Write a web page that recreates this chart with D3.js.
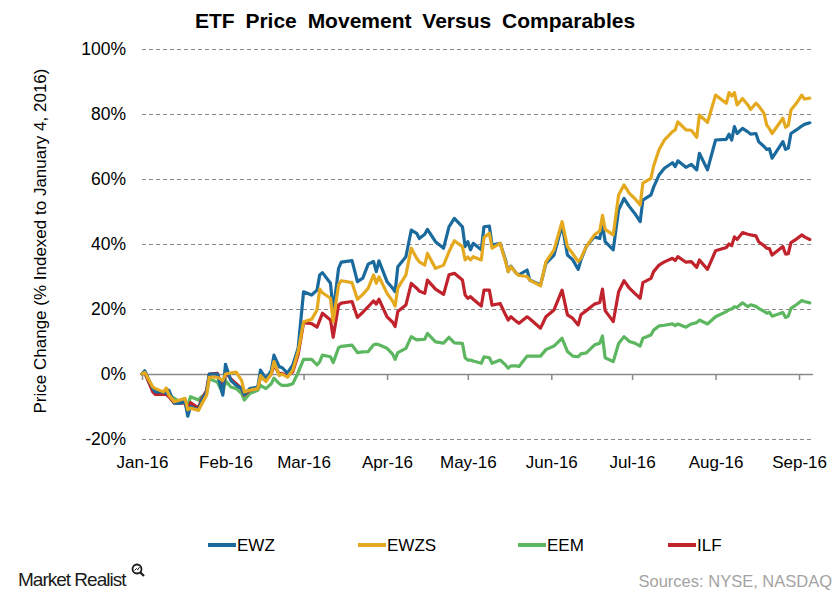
<!DOCTYPE html>
<html>
<head>
<meta charset="utf-8">
<script src="https://cdn.jsdelivr.net/npm/d3@7"></script>
<style>
  html, body { margin: 0; padding: 0; background: #fff; }
  svg { display: block; font-family: "Liberation Sans", Arial, sans-serif; }
</style>
</head>
<body>
<svg id="chart" width="840" height="600"></svg>
<script>
// ---------------- DATA ----------------
const dates = [
  "2016-01-04","2016-01-05","2016-01-08","2016-01-09","2016-01-12","2016-01-13","2016-01-14","2016-01-16",
  "2016-01-18","2016-01-20","2016-01-21","2016-01-22","2016-01-25","2016-01-26","2016-01-28","2016-01-29",
  "2016-02-01","2016-02-03","2016-02-04","2016-02-06","2016-02-08","2016-02-10","2016-02-11","2016-02-13",
  "2016-02-16","2016-02-17","2016-02-19","2016-02-21","2016-02-22","2016-02-24","2016-02-25","2016-02-27",
  "2016-02-29","2016-03-02","2016-03-04","2016-03-07","2016-03-09","2016-03-10","2016-03-11","2016-03-14",
  "2016-03-15","2016-03-17","2016-03-18","2016-03-22","2016-03-24","2016-03-26","2016-03-28","2016-03-30",
  "2016-03-31","2016-04-01","2016-04-04","2016-04-06","2016-04-07","2016-04-08","2016-04-11","2016-04-13",
  "2016-04-15","2016-04-16","2016-04-18","2016-04-19","2016-04-22","2016-04-25","2016-04-27","2016-04-29",
  "2016-05-02","2016-05-03","2016-05-04","2016-05-05","2016-05-06","2016-05-09","2016-05-10","2016-05-12",
  "2016-05-13","2016-05-16","2016-05-18","2016-05-19","2016-05-20","2016-05-22","2016-05-23","2016-05-26",
  "2016-05-27","2016-05-31","2016-06-02","2016-06-05","2016-06-08","2016-06-10","2016-06-12","2016-06-14",
  "2016-06-15","2016-06-17","2016-06-20","2016-06-22","2016-06-23","2016-06-24","2016-06-27","2016-06-29",
  "2016-07-01","2016-07-03","2016-07-05","2016-07-07","2016-07-08","2016-07-11","2016-07-12","2016-07-14",
  "2016-07-16","2016-07-19","2016-07-20","2016-07-21","2016-07-24","2016-07-26","2016-07-28","2016-07-29",
  "2016-08-01","2016-08-04","2016-08-08","2016-08-09","2016-08-10","2016-08-11","2016-08-12","2016-08-14",
  "2016-08-16","2016-08-17","2016-08-19","2016-08-20","2016-08-22","2016-08-23","2016-08-24","2016-08-25",
  "2016-08-29","2016-08-30","2016-08-31","2016-09-01","2016-09-03","2016-09-05","2016-09-06","2016-09-08"
];

const ewz = [
  0, 1, -4.5, -5.5, -5.5, -6, -5, -9, -9, -8.5, -13, -10, -11, -8.5, -5.5, 0,
  0, -6.5, 3, -2, -3.5, -4.5, -6.3, -4.5, -4, 1.2, -1.5, 1, 5.8, 2.2, 2, 0.3,
  2.8, 8, 25.3, 24.3, 25.8, 30.5, 31.2, 27.9, 19.2, 32.5, 34.4, 34.9, 28.4, 29.5, 33.8, 34.6,
  31.5, 34.8, 28.4, 26.5, 25.3, 33, 36.1, 44.3, 43.3, 41.7, 43, 44.5, 40.7, 38.7, 45.3, 47.9,
  45.3, 39.2, 40.7, 38.2, 40.2, 38.2, 45.3, 45.5, 39.7, 40.2, 35.1, 31.5, 33.2, 31, 30.5, 32,
  28.9, 27.4, 34, 36.6, 45.8, 36.6, 35.1, 32.2, 35.1, 39.2, 42.2, 41.7, 46, 40.7, 38.2, 50.5,
  54, 51.5, 49.4, 46.9, 53.5, 55.1, 57.5, 61.2, 63.3, 65, 63.8, 65.6, 63.6, 64.5, 62.8, 67.9,
  62.8, 72, 72.2, 73.8, 72, 76.1, 74, 75.6, 74.5, 73.8, 74, 71.5, 70, 69.1, 69.3, 66.4,
  71.5, 69.1, 69.5, 74, 75.1, 76.3, 76.8, 77.3
];

const ewzs = [
  0, 0.5, -4, -4.5, -5.5, -4.3, -6.5, -8.5, -8, -7.5, -11, -10.5, -11.2, -9.5, -6.5, -1,
  -1, -2, 0, 0.3, 0.6, -2, -5.5, -5, -4.5, -0.5, -2.3, 0, 3.8, -0.5, 0, -1,
  1.2, 7, 16.1, 16.8, 19.7, 26.1, 25, 23.3, 16.1, 27.4, 28.7, 28.1, 23, 24.5, 26.4, 30.5,
  27.9, 29.9, 24.8, 22.5, 20.9, 26.4, 30.5, 38.7, 35.6, 34.5, 33.5, 37.1, 32.5, 33.5, 37.6, 41,
  39.2, 35.1, 36, 35.1, 36.1, 35.1, 42, 43.3, 38.7, 40.2, 34.6, 31.5, 33, 31, 30.3, 30,
  28.9, 27.1, 34.5, 38.2, 46.9, 39.2, 37, 34.6, 35.6, 39.2, 42.8, 44, 48.8, 44.5, 42.8, 55.1,
  58.2, 55.6, 54, 52, 58.7, 60.2, 64, 69, 72, 74.6, 75.1, 77.6, 75.1, 75, 72.8, 79.7,
  77.4, 85.8, 83.3, 86.6, 85.5, 86.6, 82.8, 84.8, 82.8, 81.4, 83.3, 82.5, 80.2, 76.6, 75.5, 74,
  78.7, 75.9, 76.5, 81.2, 83.3, 85.8, 84.6, 84.9
];

const eem = [
  0, 0.2, -5, -5.5, -6, -6, -6.5, -7.5, -8.5, -8, -10, -7, -8, -7, -6, -1.5,
  -2.5, -6, -2, -4, -4.5, -6, -8, -6, -5, -3.5, -4.5, -3, -1.3, -3, -3.5, -3.5,
  -3, 0.5, 4.5, 4.5, 2.8, 3.8, 5.8, 5.3, 3.5, 8.1, 8.5, 8.9, 6.6, 6.8, 6.9, 9,
  9.2, 9, 7.9, 6.2, 4.5, 6.6, 7.9, 11.5, 10.5, 10.6, 10.7, 12.5, 9.9, 9.5, 11.3, 9.6,
  9.4, 5, 4.3, 4.3, 4, 3.3, 5.3, 5, 3.3, 4.3, 2.8, 1.8, 2.5, 2.5, 2.3, 5.5,
  5.5, 5.5, 7.5, 8.6, 11, 6.9, 5.5, 5.3, 6.2, 6.5, 8.9, 9.5, 11.7, 5, 3.8, 9.4,
  11.5, 10, 9.5, 8.6, 11, 12, 13.5, 14.8, 15, 15.4, 14.9, 15.4, 14.4, 15.4, 15.8, 16.6,
  15.4, 17.6, 19.2, 19.8, 20, 20.7, 20.5, 21.9, 20.7, 21.3, 20.8, 20.2, 19.3, 18.7, 19, 17.8,
  18.9, 17.4, 17.8, 20.2, 21.3, 22.6, 22.3, 21.9
];

const ilf = [
  0, 0.5, -5.5, -6.3, -6.3, -6.3, -7, -9, -9, -9, -11.6, -8.8, -10.5, -8, -5, 0,
  0.2, -5, 0.7, -1.5, -3, -4.5, -6.5, -5, -4.3, -1, -2, 0, 2.8, 0, 0.2, -0.5,
  0.7, 6, 15.8, 15.5, 14.4, 16.5, 18.7, 16.6, 11.3, 21.2, 21.8, 22.3, 17.4, 19, 20.7, 22.5,
  21.5, 23, 17.6, 16, 14.6, 19.2, 21.2, 27.9, 26.4, 25.5, 24.8, 28.9, 26.1, 24.5, 30.5, 31,
  28.9, 24.3, 23.3, 23.8, 23, 20.9, 25.8, 25.8, 21.2, 21.7, 18.2, 16.6, 17.6, 16.2, 15.6, 17.6,
  17, 14.1, 17.6, 19.7, 25.8, 18.2, 17.1, 15.1, 18.2, 19.5, 21.5, 22, 26.1, 19.5, 16.1, 25.3,
  28.7, 26.4, 24.8, 23.3, 28.1, 29.4, 31.5, 33.5, 34.5, 35.6, 34.9, 36.1, 34.4, 34.6, 32.8, 35.1,
  32.2, 37.9, 38.9, 40, 39.5, 42.2, 41.4, 43.5, 43, 42.8, 42.5, 40.7, 39.5, 38.7, 38.6, 36.6,
  39.2, 36.9, 37, 40.4, 41.5, 42.8, 42.2, 41.4
];

const seriesNames = ["EWZ", "EWZS", "EEM", "ILF"];
const seriesColors = ["#1a6a9e", "#e5a91f", "#5db660", "#c0232b"];
const yTicks = [-20, 0, 20, 40, 60, 80, 100];
const xTickDates = ["2016-01-04","2016-02-04","2016-03-04","2016-04-04","2016-05-04",
                    "2016-06-04","2016-07-04","2016-08-04","2016-09-04"];
const xDomain = ["2016-01-04", "2016-09-09"];

// ---------------- CHART ----------------
(function () {
  const parse = d3.timeParse("%Y-%m-%d");
  const fmt = d3.timeFormat("%b-%y");
  const svg = d3.select("#chart");
  const font = '"Liberation Sans", Arial, sans-serif';

  const pLeft = 142, pRight = 812.5, pTop = 49, pBottom = 439;
  const x = d3.scaleTime().domain(xDomain.map(parse)).range([pLeft, pRight]);
  const y = d3.scaleLinear().domain([-20, 100]).range([pBottom, pTop]);

  // title
  svg.append("text")
    .attr("x", 415).attr("y", 28)
    .attr("text-anchor", "middle")
    .attr("font-size", 21).attr("font-weight", "bold")
    .attr("word-spacing", 5)
    .attr("fill", "#000")
    .text("ETF Price Movement Versus Comparables");

  // y axis with gridlines
  const yAxis = d3.axisLeft(y).tickValues(yTicks).tickFormat(d => d + "%")
    .tickSize(-(pRight - pLeft)).tickPadding(16);
  const gy = svg.append("g").attr("transform", `translate(${pLeft},0)`).call(yAxis);
  gy.select(".domain").remove();
  gy.selectAll(".tick line")
    .attr("stroke", d => d === 0 ? "none" : "#8a8a8a")
    .attr("stroke-width", 1.2)
    .attr("stroke-dasharray", "4,3");
  gy.selectAll(".tick text").attr("font-size", 17.5).attr("font-family", font).attr("fill", "#000");

  // x axis line at 0 with tick marks
  const xAxisLine = d3.axisBottom(x).tickValues(xTickDates.map(parse)).tickSize(6)
    .tickSizeOuter(0).tickFormat("");
  const gx = svg.append("g").attr("transform", `translate(0,${y(0)})`).call(xAxisLine);
  gx.select(".domain").attr("stroke", "#8a8a8a").attr("stroke-width", 1.5);
  gx.selectAll(".tick line").attr("stroke", "#8a8a8a").attr("stroke-width", 1.5);

  // x labels below plot
  const xAxisLabels = d3.axisBottom(x).tickValues(xTickDates.map(parse)).tickSize(0)
    .tickPadding(17).tickFormat(fmt);
  const gxl = svg.append("g").attr("transform", `translate(0,${pBottom})`).call(xAxisLabels);
  gxl.select(".domain").remove();
  gxl.selectAll(".tick text").attr("font-size", 17).attr("font-family", font).attr("fill", "#000");

  // y axis title
  svg.append("text")
    .attr("transform", "translate(46,241) rotate(-90)")
    .attr("text-anchor", "middle")
    .attr("font-size", 17).attr("fill", "#000")
    .text("Price Change (% Indexed to January 4, 2016)");

  // lines
  const allSeries = [ewz, ewzs, eem, ilf];
  const line = d3.line()
    .x((d, i) => x(parse(dates[i])))
    .y(d => y(d));
  const drawOrder = [2, 3, 0, 1];
  drawOrder.forEach(k => {
    svg.append("path")
      .datum(allSeries[k])
      .attr("fill", "none")
      .attr("stroke", seriesColors[k])
      .attr("stroke-width", 3.2)
      .attr("stroke-linejoin", "round")
      .attr("stroke-linecap", "round")
      .attr("d", line);
  });

  // legend
  const legendX = [208, 358, 518, 668];
  const legend = svg.append("g");
  seriesNames.forEach((name, i) => {
    legend.append("line")
      .attr("x1", legendX[i]).attr("x2", legendX[i] + 28)
      .attr("y1", 545).attr("y2", 545)
      .attr("stroke", seriesColors[i]).attr("stroke-width", 4);
    legend.append("text")
      .attr("x", legendX[i] + 29).attr("y", 545).attr("dy", "0.36em")
      .attr("font-size", 17).attr("fill", "#000")
      .text(name);
  });

  // footer
  svg.append("text")
    .attr("x", 18).attr("y", 586)
    .attr("font-size", 19).attr("fill", "#1a1a1a")
    .attr("letter-spacing", -1)
    .text("Market Realist");
  const icon = svg.append("g").attr("transform", "translate(137,569)");
  icon.append("circle").attr("r", 4.5).attr("fill", "none").attr("stroke", "#1a1a1a").attr("stroke-width", 1.8);
  icon.append("line").attr("x1", 3.2).attr("y1", 3.2).attr("x2", 7).attr("y2", 7)
    .attr("stroke", "#1a1a1a").attr("stroke-width", 2.2);
  icon.append("path").attr("d", "M-2.5,1.5 L-0.5,-0.5 L0.8,0.8 L2.5,-2")
    .attr("fill", "none").attr("stroke", "#1a1a1a").attr("stroke-width", 1);
  svg.append("text")
    .attr("x", 832).attr("y", 587)
    .attr("text-anchor", "end")
    .attr("font-size", 16.5).attr("fill", "#a3a3a3")
    .text("Sources: NYSE, NASDAQ");
})();
</script>
</body>
</html>
